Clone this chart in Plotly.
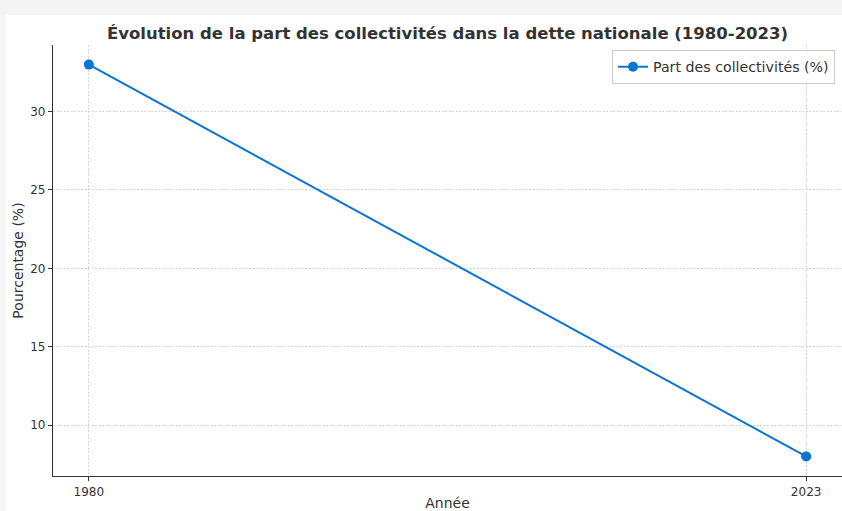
import plotly.graph_objects as go

years = [1980, 2023]
part_collectivites = [33, 8]
y_ticks = [10, 15, 20, 25, 30]
x_ticks = [1980, 2023]

W, H = 842, 511
ml, mr, mt, mb = 53, 0, 45, 35
pw, ph = W - ml - mr, H - mt - mb

fig = go.Figure()
fig.add_trace(go.Scatter(
    x=years, y=part_collectivites, mode="lines+markers",
    name="Part des collectivités (%)",
    line=dict(color="#0a74d1", width=2),
    marker=dict(color="#0a74d1", size=10),
))

font_main = "DejaVu Sans, Verdana, sans-serif"
grid_style = dict(showgrid=True, gridcolor="#d6d6d6", griddash="2px,1.5px", gridwidth=1)
fig.update_layout(
    width=W, height=H,
    margin=dict(l=ml, r=mr, t=mt, b=mb, autoexpand=False),
    paper_bgcolor="#f5f5f5",
    plot_bgcolor="white",
    font=dict(family=font_main, size=12, color="#333333"),
    title=dict(
        text="<b>Évolution de la part des collectivités dans la dette nationale (1980-2023)</b>",
        x=0.5, xref="paper", xanchor="center",
        y=1 - 33 / H, yanchor="middle",
        font=dict(size=16.5, color="#333333", family=font_main),
    ),
    showlegend=True,
    legend=dict(
        x=(835 - ml) / pw, xanchor="right",
        y=(H - mb - 50) / ph, yanchor="top",
        bgcolor="white", bordercolor="#cccccc", borderwidth=1,
        font=dict(size=14.2, color="#333333"),
        itemwidth=30,
    ),
    xaxis=dict(
        range=[1977.85, 2025.15], tickvals=x_ticks, ticktext=[str(v) for v in x_ticks],
        showline=True, linecolor="#333333", linewidth=1.2,
        ticks="outside", ticklen=4, tickcolor="#333333",
        zeroline=False,
        title=dict(text="Année", font=dict(size=14), standoff=3),
        tickfont=dict(size=12),
        **grid_style,
    ),
    yaxis=dict(
        range=[6.75, 34.25], tickvals=y_ticks,
        showline=True, linecolor="#333333", linewidth=1.2,
        ticks="outside", ticklen=4, tickcolor="#333333",
        zeroline=False,
        title=dict(text="Pourcentage (%)", font=dict(size=14), standoff=3),
        tickfont=dict(size=12),
        **grid_style,
    ),
    shapes=[dict(
        type="rect", xref="paper", yref="paper", layer="below",
        x0=(6 - ml) / pw, x1=1.05,
        y0=-0.2, y1=(H - mb - 15) / ph,
        fillcolor="white", line=dict(width=0),
    )],
)

fig.write_html(
    "out.html",
    config={"displayModeBar": False},
    post_script="document.body.style.margin='0';document.body.style.background='#f5f5f5';",
)
